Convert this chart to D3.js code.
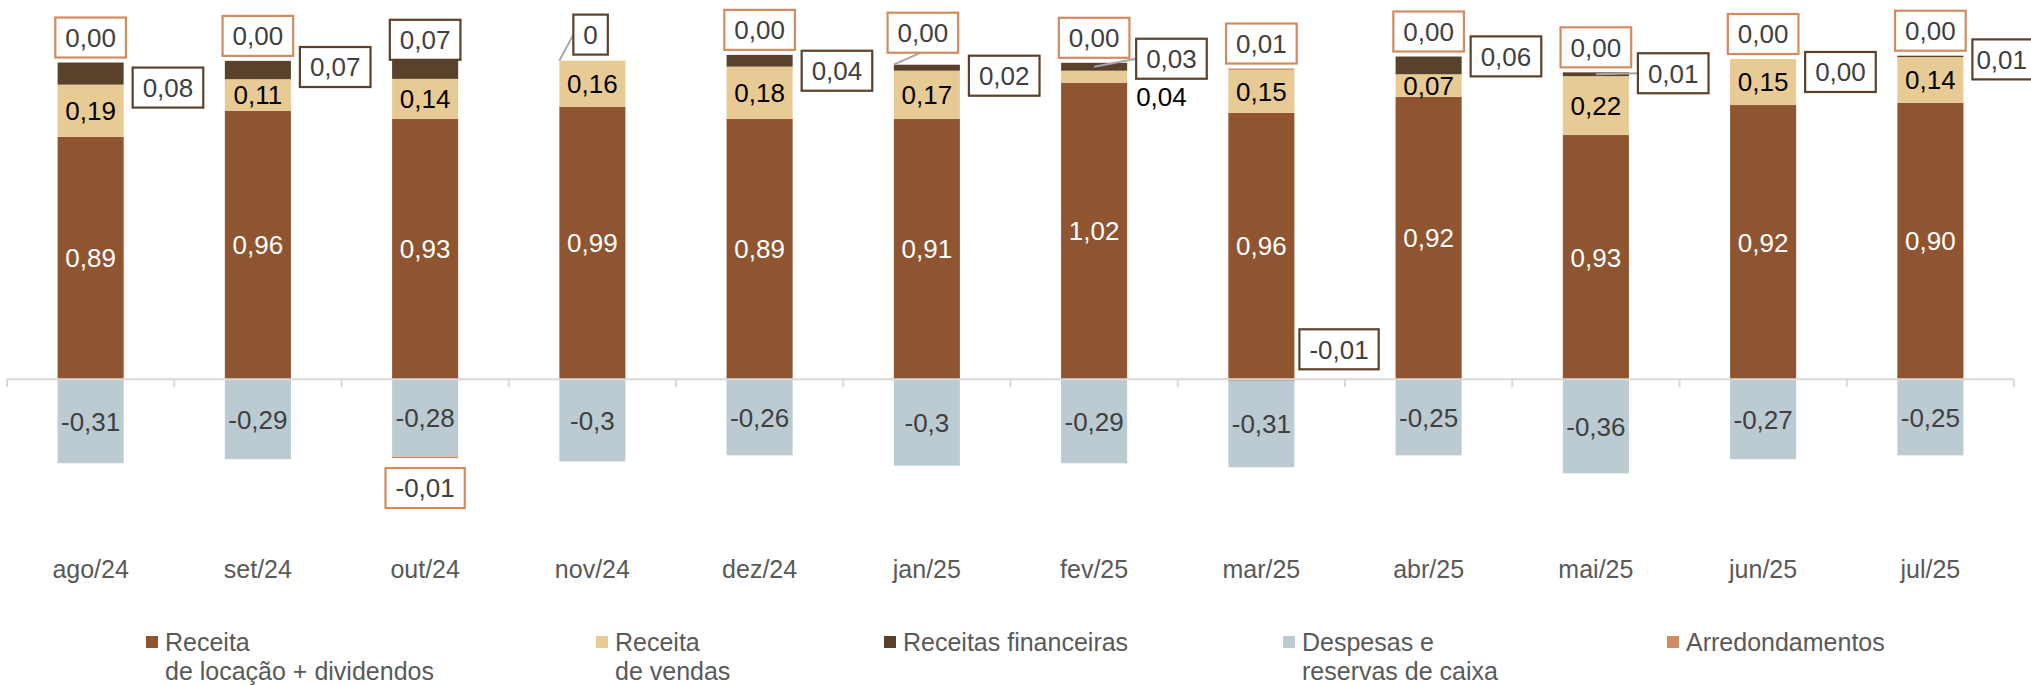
<!DOCTYPE html>
<html><head><meta charset="utf-8">
<script src="https://cdn.jsdelivr.net/npm/d3@7"></script>
<style>
body{margin:0;background:#fff}
svg{display:block}
text{font-family:"Liberation Sans",Arial,sans-serif}
</style>
</head><body>
<svg id="c" width="2031" height="685"></svg>
<script>
// ---------- DATA ----------
const months = ["ago/24","set/24","out/24","nov/24","dez/24","jan/25","fev/25","mar/25","abr/25","mai/25","jun/25","jul/25"];
// bar heights
const receitaLocacao = [0.889,0.985,0.955,1.000,0.955,0.955,1.088,0.977,1.036,0.896,1.006,1.014];
const receitaVendas  = [0.192,0.116,0.147,0.169,0.192,0.177,0.044,0.158,0.083,0.216,0.169,0.168];
const receitasFinanceiras = [0.081,0.067,0.070,0,0.043,0.022,0.029,-0.005,0.065,0.014,0,0.005];
const despesasReservas = [-0.308,-0.293,-0.284,-0.301,-0.279,-0.317,-0.308,-0.318,-0.279,-0.345,-0.293,-0.279];
const arredondamentos = [0,0,-0.005,0,0,0,0,0.005,0,0,0,0];
// printed data labels
const labelsLocacao = ["0,89","0,96","0,93","0,99","0,89","0,91","1,02","0,96","0,92","0,93","0,92","0,90"];
const labelsVendas  = ["0,19","0,11","0,14","0,16","0,18","0,17","0,04","0,15","0,07","0,22","0,15","0,14"];
const labelsFinanceiras = ["0,08","0,07","0,07","0","0,04","0,02","0,03","-0,01","0,06","0,01","0,00","0,01"];
const labelsDespesas = ["-0,31","-0,29","-0,28","-0,3","-0,26","-0,3","-0,29","-0,31","-0,25","-0,36","-0,27","-0,25"];
const labelsArred = ["0,00","0,00","-0,01","","0,00","0,00","0,00","0,01","0,00","0,00","0,00","0,00"];
const seriesNames = [["Receita","de locação + dividendos"],["Receita","de vendas"],["Receitas financeiras"],["Despesas e","reservas de caixa"],["Arredondamentos"]];

// ---------- LAYOUT / STYLE ----------
const keys = ["loc","vend","fin","desp","arred"];
const colors = {loc:"#8F5530", vend:"#E8CA94", fin:"#5A412C", desp:"#BCCAD2", arred:"#D08C60"};
const finMode = ["right","right","top","topLeft","right","right","rightLeader","rightAxis","right","rightLeader","right","right"];
const finDy = [14,-3,0,0,10,8,-8,0,-9,-1,13,3];
const arredMode = ["top","top","bottom","none","top","topLeader","top","top","top","top","top","top"];
const vendMode = ["in","in","in","in","in","in","outRight","in","in","in","in","in"];
const legendX = [146,596,884,1283,1667];
const W = 2031;

const svg = d3.select("#c");
const x = d3.scaleBand().domain(months).range([7,2014]).paddingInner(0.605).paddingOuter(0.3025);
const y = d3.scaleLinear().domain([-0.5,1.3]).range([515.6,24.9]);

const rows = months.map((m,i)=>({month:m, loc:receitaLocacao[i], vend:receitaVendas[i], fin:receitasFinanceiras[i], desp:despesasReservas[i], arred:arredondamentos[i]}));
const stacked = d3.stack().keys(keys).offset(d3.stackOffsetDiverging)(rows);
const S = {}; stacked.forEach(s=>S[s.key]=s);

// bars
svg.append("g").selectAll("g").data(stacked).join("g")
  .attr("fill", s=>colors[s.key])
  .selectAll("rect").data(s=>s.filter(d=>d[1]!==d[0])).join("rect")
  .attr("x", d=>x(d.data.month))
  .attr("width", x.bandwidth())
  .attr("y", d=>y(Math.max(d[0],d[1])))
  .attr("height", d=>Math.abs(y(d[0])-y(d[1])));

// axis line + boundary ticks
const y0 = y(0);
const step = x.step();
const [r0,r1] = x.range();
svg.append("line").attr("x1",r0).attr("x2",r1).attr("y1",y0).attr("y2",y0).attr("stroke","#D9D9D9").attr("stroke-width",2);
svg.append("g").selectAll("line").data(d3.range(months.length+1)).join("line")
  .attr("x1",k=>r0+k*step).attr("x2",k=>r0+k*step).attr("y1",y0).attr("y2",y0+8)
  .attr("stroke","#D9D9D9").attr("stroke-width",2);

// category labels through d3 axis
const ax = svg.append("g").attr("transform",`translate(0,${y0})`)
  .call(d3.axisBottom(x).tickSize(0).tickPadding(181));
ax.select(".domain").remove();
ax.selectAll("text").attr("font-size",25).attr("fill","#595959").attr("font-family",'"Liberation Sans",Arial,sans-serif');

// helpers
const lab = svg.append("g");
function segMid(key,i){
  const d=S[key][i];
  if (d[0]===d[1] && key==="fin") return y(S.vend[i][1]);
  return y((d[0]+d[1])/2);
}
function posTop(i){ let t=0; keys.forEach(k=>{t=Math.max(t,S[k][i][1],S[k][i][0]);}); return y(t); }
function negBottom(i){ let b=0; keys.forEach(k=>{b=Math.min(b,S[k][i][0],S[k][i][1]);}); return y(b); }
function box(cx, cy, txt, stroke, anchorLeft){
  const g = lab.append("g");
  const t = g.append("text").text(txt).attr("font-size",26).attr("fill","#404040")
    .attr("text-anchor","middle").attr("dy","0.36em");
  const tw = t.node().getComputedTextLength();
  const w = tw+20, h=40;
  const left = anchorLeft===undefined || anchorLeft===null ? cx-w/2 : anchorLeft;
  // keep the text itself inside the picture, the frame may run past the edge
  const tx = Math.min(left+w/2, W-4-tw/2);
  t.attr("x", tx).attr("y", cy);
  g.insert("rect","text").attr("x",left).attr("y",cy-h/2).attr("width",w).attr("height",h)
    .attr("fill","#fff").attr("stroke",stroke).attr("stroke-width",2.2);
  return {left, w, h, top:cy-h/2, bottom:cy+h/2};
}
function leader(x1,y1,x2,y2){
  lab.insert("line",":first-child").attr("x1",x1).attr("y1",y1).attr("x2",x2).attr("y2",y2)
    .attr("stroke","#A6A6A6").attr("stroke-width",2);
}

months.forEach((m,i)=>{
  const bl = x(m), bw = x.bandwidth(), cx = bl+bw/2, br = bl+bw;
  lab.append("text").text(labelsLocacao[i]).attr("x",cx).attr("y",segMid("loc",i)).attr("dy","0.36em")
    .attr("text-anchor","middle").attr("font-size",26).attr("fill","#fff");
  if (vendMode[i]==="in"){
    lab.append("text").text(labelsVendas[i]).attr("x",cx).attr("y",segMid("vend",i)).attr("dy","0.36em")
      .attr("text-anchor","middle").attr("font-size",26).attr("fill","#000");
  } else {
    lab.append("text").text(labelsVendas[i]).attr("x",br+9).attr("y",segMid("vend",i)+20).attr("dy","0.36em")
      .attr("text-anchor","start").attr("font-size",26).attr("fill","#000");
  }
  lab.append("text").text(labelsDespesas[i]).attr("x",cx).attr("y",segMid("desp",i)).attr("dy","0.36em")
    .attr("text-anchor","middle").attr("font-size",26).attr("fill","#404040");

  const top = posTop(i);
  const fm = finMode[i];
  if (fm==="right" || fm==="rightLeader"){
    const cy = segMid("fin",i)+finDy[i];
    const b = box(null, cy, labelsFinanceiras[i], colors.fin, br+9);
    if (fm==="rightLeader") leader(cx, segMid("fin",i), b.left, cy);
  } else if (fm==="top"){
    box(cx, top-20, labelsFinanceiras[i], colors.fin);
  } else if (fm==="topLeft"){
    const b = box(null, top-26, labelsFinanceiras[i], colors.fin, bl+14);
    leader(bl, top, b.left, top-26);
  } else if (fm==="rightAxis"){
    box(null, y0-30, labelsFinanceiras[i], colors.fin, br+5);
  }
  const am = arredMode[i];
  if (am==="top"){
    box(cx, top-25, labelsArred[i], colors.arred);
  } else if (am==="topLeader"){
    const b = box(cx-4, top-32, labelsArred[i], colors.arred);
    leader(bl, top, cx-6, b.bottom);
  } else if (am==="bottom"){
    box(cx, negBottom(i)+30, labelsArred[i], colors.arred);
  }
});

// legend
const lg = svg.append("g");
seriesNames.forEach((lines,k)=>{
  const gx = legendX[k];
  lg.append("rect").attr("x",gx).attr("y",636).attr("width",12).attr("height",12).attr("fill",colors[keys[k]]);
  const t = lg.append("text").attr("x",gx+19).attr("y",651).attr("font-size",25).attr("fill","#595959");
  lines.forEach((ln,j)=>t.append("tspan").attr("x",gx+19).attr("dy", j===0?0:29).text(ln));
});
</script>
</body></html>
